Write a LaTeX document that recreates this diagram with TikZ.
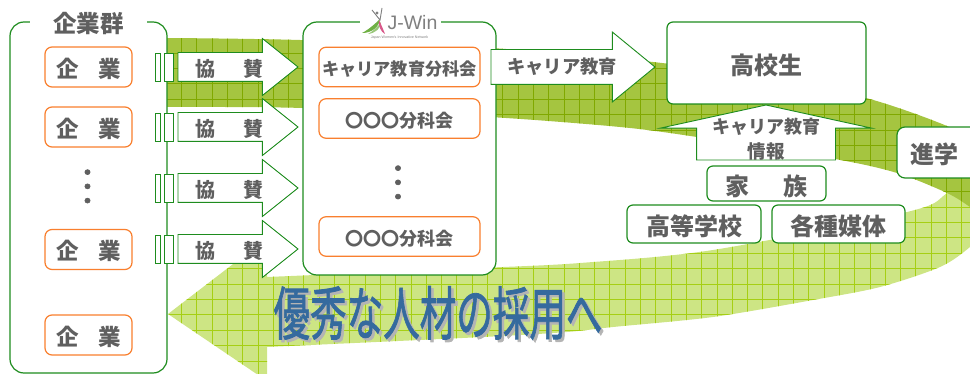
\documentclass[tikz,border=0pt]{standalone}
\usepackage{fontspec}
\setmainfont{Noto Sans CJK JP}
\newfontfamily\logofont{Liberation Sans}
\newfontfamily\titlefont[FakeBold=1.5]{Noto Sans CJK JP}
\usetikzlibrary{shapes.arrows}

\definecolor{boxgreen}{HTML}{1E8C1E}
\definecolor{boxorange}{HTML}{F97F2E}
\definecolor{textgray}{HTML}{5F5F5F}
\definecolor{banddark}{HTML}{A5C540}
\definecolor{banddarkline}{HTML}{80A800}
\definecolor{bandlight}{HTML}{CDE584}
\definecolor{bandlightline}{HTML}{A6CF14}
\definecolor{titleblue}{HTML}{356A9E}
\definecolor{titleshadow}{HTML}{B4B4B4}
\definecolor{logogreen}{HTML}{6FB044}
\definecolor{logopink}{HTML}{D8588A}

\newcommand{\jpsize}[1]{\fontsize{#1}{#1}\selectfont\bfseries}

\tikzset{
    lift/.style={text height=#1},
    groupbox/.style={draw=boxgreen, fill=white, line width=1.2pt, rounded corners=14pt, inner sep=0pt},
    studentbox/.style={draw=boxgreen, fill=white, line width=1.2pt, rounded corners=6pt, inner sep=0pt, text=textgray},
    compbox/.style={draw=boxorange, fill=white, line width=1.2pt, rounded corners=7pt, inner sep=0pt,
        minimum width=87pt, minimum height=40pt, text=textgray, font=\jpsize{22.5}, lift=22.8pt},
    bunkabox/.style={draw=boxorange, fill=white, line width=1.2pt, rounded corners=7pt, inner sep=0pt,
        minimum width=161pt, minimum height=39.5pt, text=textgray},
    barbox/.style={draw=boxgreen, fill=white, line width=0.9pt, inner sep=0pt, minimum height=28pt},
    kyosanarrow/.style={single arrow, draw=boxgreen, fill=white, line width=0.9pt, inner xsep=0pt, inner ysep=14pt, outer sep=0pt,
        anchor=tail, minimum height=120pt,
        single arrow head extend=14pt, single arrow tip angle=77.3, single arrow head indent=0pt},
    kyosantext/.style={text=textgray, inner sep=0pt, font=\jpsize{20}},
    jptext/.style={text=textgray, inner sep=0pt},
    dotstext/.style={text=textgray, inner sep=0pt, rotate=90, font=\titlefont\fontsize{38}{38}\selectfont},
    bandgrid/.style={line width=0.6pt, xstep=15.3pt, ystep=15.4pt},
}

\begin{document}
\begin{tikzpicture}[x=1pt, y=-1pt]

    \useasboundingbox (0,0) rectangle (970,374);
    \clip (0,0) rectangle (970,374);

    % Bands
    \begin{scope}
        \clip plot[smooth, tension=0.5] coordinates {(990,150) (947,193) (907,212) (713,250) (580,263) (480,268) (267,277)}
            -- (267,238) -- (168,314) -- (267,381)
            -- plot[smooth, tension=0.5] coordinates {(267,347) (483,337) (567,332) (613,327) (713,317) (813,300) (880,287) (940,267) (970,247) (995,222)}
            -- cycle;
        \fill[bandlight] (0,0) rectangle (990,390);
        \draw[bandlightline, bandgrid, xshift=13pt, yshift=-6.8pt] (-13,-7) grid (990,390);
    \end{scope}
    \begin{scope}
        \clip plot[smooth, tension=0.5] coordinates {(167,38) (300,40) (491,48) (653,62) (760,77) (866,98) (947,126) (990,150)}
            -- plot[smooth, tension=0.5] coordinates {(990,222) (970,207) (947,193) (897,173) (835,159) (697,137) (620,127) (490,117) (303,108) (167,107)}
            -- cycle;
        \fill[banddark] (0,0) rectangle (990,390);
        \draw[banddarkline, bandgrid, xshift=13pt, yshift=-6.8pt] (-13,-7) grid (990,390);
    \end{scope}

    % Groups
    \node (kigyogun) [groupbox, minimum width=157pt, minimum height=351pt] at (88.5,197.5) {};
    \node (kigyotitle) [jptext, fill=white, minimum width=117pt, minimum height=20pt, font=\jpsize{23.5}] at (88.5,24) {企業群};
    \node (jwin) [groupbox, minimum width=193pt, minimum height=253pt] at (399.5,148.5) {};

    % Logo
    \fill[white] (360,3) rectangle (441,43);
    \fill[logogreen] (362,33) .. controls (368,30) and (375,24) .. (380,19) .. controls (379,27) and (372,33) .. cycle;
    \fill[logogreen, opacity=0.7] (368,34) .. controls (373,31) and (378,27) .. (381,22) .. controls (381,28) and (376,33) .. cycle;
    \fill[logopink] (379,20) .. controls (381,24) and (383,29) .. (385,34) .. controls (381,32) and (378,26) .. cycle;
    \draw[gray, line width=0.9pt] (372,10) -- (380,20) -- (382,8);
    \fill[gray] (377,13) circle (1.6);
    \node (logotext) [inner sep=0pt, text=gray, font=\logofont\fontsize{19.5}{20}\selectfont] at (412.5,23) {J-Win};
    \node (logosub) [inner sep=0pt, text=gray, font=\logofont\fontsize{3.6}{4}\selectfont] at (399.5,38) {Japan Women's Innovative Network};

    % Companies
    \node (kigyo1) [compbox] at (88.5,67) {企\hspace{19.5pt}業};
    \node (kigyo2) [compbox] at (88.5,127) {企\hspace{19.5pt}業};
    \node (kigyodots) [dotstext] at (87.5,187) {…};
    \node (kigyo3) [compbox] at (88.5,249.5) {企\hspace{19.5pt}業};
    \node (kigyo4) [compbox] at (88.5,335) {企\hspace{19.5pt}業};

    % Committees
    \node (bunka1) [bunkabox, font=\jpsize{17.2}, lift=18.1pt] at (399.5,67) {キャリア教育分科会};
    \node (bunka2) [bunkabox, font=\jpsize{18}, lift=20.8pt] at (399.5,118.5) {〇〇〇分科会};
    \node (bunkadots) [dotstext] at (398,183) {…};
    \node (bunka3) [bunkabox, font=\jpsize{18}, lift=19.3pt] at (399.5,236.5) {〇〇〇分科会};

    % Sponsor arrows
    \node (bar1a) [barbox, minimum width=5pt] at (158,67) {};
    \node (bar1b) [barbox, minimum width=9pt] at (169,67) {};
    \node (arrow1) [kyosanarrow] at (178,67) {};
    \node (bar2a) [barbox, minimum width=5pt] at (158,127) {};
    \node (bar2b) [barbox, minimum width=9pt] at (169,127) {};
    \node (arrow2) [kyosanarrow] at (178,127) {};
    \node (bar3a) [barbox, minimum width=5pt] at (158,188) {};
    \node (bar3b) [barbox, minimum width=9pt] at (169,188) {};
    \node (arrow3) [kyosanarrow] at (178,188) {};
    \node (bar4a) [barbox, minimum width=5pt] at (158,249) {};
    \node (bar4b) [barbox, minimum width=9pt] at (169,249) {};
    \node (arrow4) [kyosanarrow] at (178,249) {};
    \node (kyosan1) [kyosantext] at (229,69) {協\hspace{28pt}賛};
    \node (kyosan2) [kyosantext] at (229,129) {協\hspace{28pt}賛};
    \node (kyosan3) [kyosantext] at (229,190) {協\hspace{28pt}賛};
    \node (kyosan4) [kyosantext] at (229,251) {協\hspace{28pt}賛};

    % Students
    \node (koukousei) [studentbox, minimum width=199pt, minimum height=82pt, font=\jpsize{24}, lift=26pt] at (766.5,63) {高校生};
    \node (eduarrow) [single arrow, draw=boxgreen, fill=white, line width=0.9pt, inner xsep=0pt, inner ysep=17pt, outer sep=0pt, anchor=tail,
        minimum height=164pt, single arrow head extend=17.5pt,
        single arrow tip angle=78.7, single arrow head indent=0pt] at (491,67) {};
    \node (edutext) [jptext, font=\jpsize{18.3}] at (562,67) {キャリア教育};
    \node (infoarrow) [single arrow, shape border rotate=90, draw=boxgreen, fill=white, line width=0.9pt, inner xsep=69pt, inner ysep=0pt, outer sep=0pt,
        anchor=tail, minimum height=55pt, single arrow head extend=36pt,
        single arrow tip angle=155.3, single arrow head indent=0pt] at (766,160) {};
    \node (infotext1) [jptext, font=\jpsize{18}] at (766,126.5) {キャリア教育};
    \node (infotext2) [jptext, font=\jpsize{18.5}] at (766,151) {情報};
    \node (kazoku) [studentbox, minimum width=119pt, minimum height=35pt, font=\jpsize{24}, lift=26pt] at (766.5,183.5) {家\hspace{34pt}族};
    \node (koukou) [studentbox, minimum width=134pt, minimum height=38pt, font=\jpsize{24}, lift=26pt] at (694,224) {高等学校};
    \node (baitai) [studentbox, minimum width=133pt, minimum height=38pt, font=\jpsize{24}, lift=26pt] at (838.5,224) {各種媒体};
    \node (shingaku) [studentbox, minimum width=88pt, minimum height=51pt, rounded corners=8pt] at (941,152.5) {};
    \node (shingakutext) [jptext, font=\jpsize{24}] at (934.5,154.5) {進学};

    % Title
    \node (saiyoshadow) [inner sep=0pt, text=titleshadow, font=\titlefont\fontsize{58}{58}\selectfont] at (440.5,315.5) {\scalebox{0.63}[1]{優秀な人材の採用へ}};
    \node (saiyo) [inner sep=0pt, text=titleblue, font=\titlefont\fontsize{58}{58}\selectfont] at (438,313) {\scalebox{0.63}[1]{優秀な人材の採用へ}};
\end{tikzpicture}
\end{document}
